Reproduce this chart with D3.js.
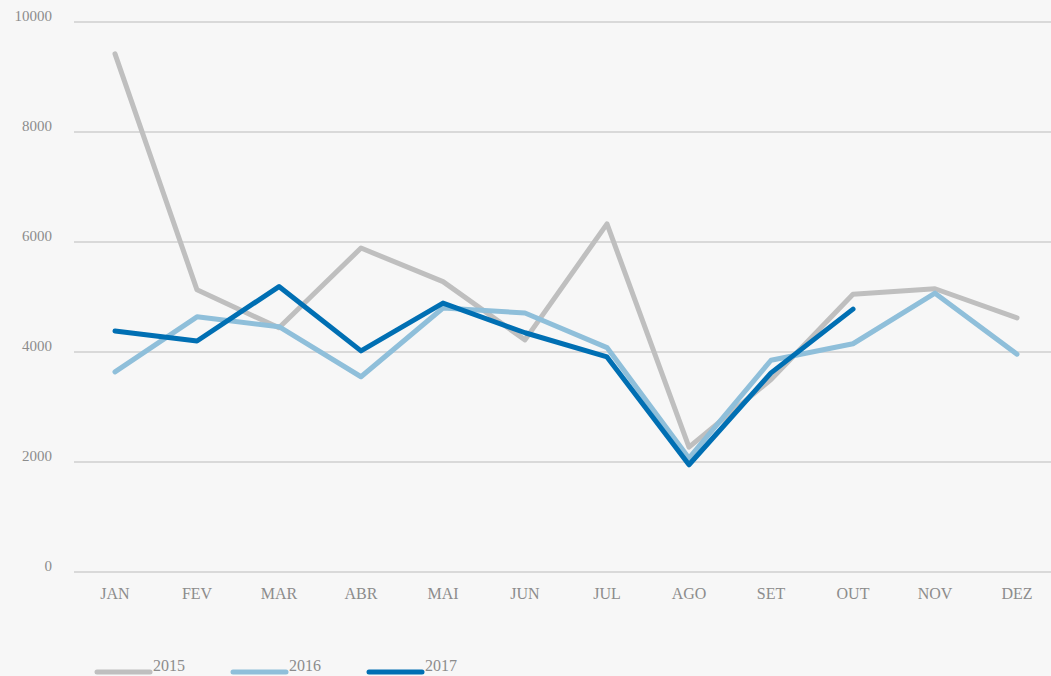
<!DOCTYPE html>
<html>
<head>
<meta charset="utf-8">
<script src="https://cdn.jsdelivr.net/npm/d3@7"></script>
<style>
  html, body { margin: 0; padding: 0; background: #f7f7f7; }
  svg { display: block; font-family: 'Liberation Serif', 'DejaVu Serif', serif; }
</style>
</head>
<body>
<svg id="LineChart" width="1051" height="676"></svg>
<script>
// Month labels and values
const months = ['JAN', 'FEV', 'MAR', 'ABR', 'MAI', 'JUN', 'JUL', 'AGO', 'SET', 'OUT', 'NOV', 'DEZ'];
const years = ['2015', '2016', '2017'];
const values2015 = [9420, 5130, 4440, 5890, 5280, 4220, 6330, 2270, 3500, 5050, 5150, 4620];
const values2016 = [3640, 4640, 4460, 3550, 4800, 4710, 4080, 2070, 3850, 4150, 5070, 3960];
const values2017 = [4380, 4200, 5190, 4020, 4890, 4350, 3910, 1950, 3620, 4780, null, null];
const yTicks = [0, 2000, 4000, 6000, 8000, 10000];
const colors = ['#bfbfbf', '#8fbfda', '#006fb3'];

const svg = d3.select('#LineChart');

// scales: bands of 82px starting at x=74, y 0..10000 -> 572..22
const xScale = d3.scaleBand().domain(months).range([74, 74 + 82 * 12]);
const yScale = d3.scaleLinear().domain([0, 10000]).range([572, 22]);

// gridlines
svg.append('g')
  .selectAll('line')
  .data(yTicks)
  .enter()
  .append('line')
  .attr('x1', 74)
  .attr('x2', 1051)
  .attr('y1', (d) => yScale(d))
  .attr('y2', (d) => yScale(d))
  .attr('stroke', '#d9d9d9')
  .attr('stroke-width', 2);

// y axis labels (sit a bit above their gridline)
const yAxis = d3.axisLeft(yScale).tickValues(yTicks).tickFormat(d3.format('d')).tickSize(0).tickPadding(0);
const gy = svg.append('g').attr('transform', 'translate(52, -6)').call(yAxis);
gy.select('.domain').remove();
gy.selectAll('text')
  .attr('fill', '#8c8c8c')
  .style('font-size', '15px')
  .style('font-family', "'Liberation Serif', serif");

// x axis labels
const xAxis = d3.axisBottom(xScale).tickSize(0).tickPadding(0);
const gx = svg.append('g').attr('transform', 'translate(0, 588)').call(xAxis);
gx.select('.domain').remove();
gx.selectAll('text')
  .attr('fill', '#8c8c8c')
  .style('font-size', '16px')
  .style('font-family', "'Liberation Serif', serif");

// lines
const series = [values2015, values2016, values2017];
const line = d3.line()
  .defined((d) => d != null)
  .x((d, i) => xScale(months[i]) + xScale.bandwidth() / 2)
  .y((d) => yScale(d));

svg.append('g')
  .selectAll('path')
  .data(series)
  .enter()
  .append('path')
  .attr('d', line)
  .attr('fill', 'none')
  .attr('stroke', (d, i) => colors[i])
  .attr('stroke-width', 5)
  .attr('stroke-linejoin', 'round')
  .attr('stroke-linecap', 'round');

// legend
const legend = svg.append('g')
  .selectAll('g')
  .data(years)
  .enter()
  .append('g')
  .attr('transform', (d, i) => 'translate(' + (97 + i * 136) + ', 0)');

legend.append('line')
  .attr('x1', 0)
  .attr('x2', 53)
  .attr('y1', 672)
  .attr('y2', 672)
  .attr('stroke', (d, i) => colors[i])
  .attr('stroke-width', 5)
  .attr('stroke-linecap', 'round');

legend.append('text')
  .attr('x', 56)
  .attr('y', 671)
  .attr('fill', '#8c8c8c')
  .style('font-size', '16px')
  .text((d) => d);
</script>
</body>
</html>
